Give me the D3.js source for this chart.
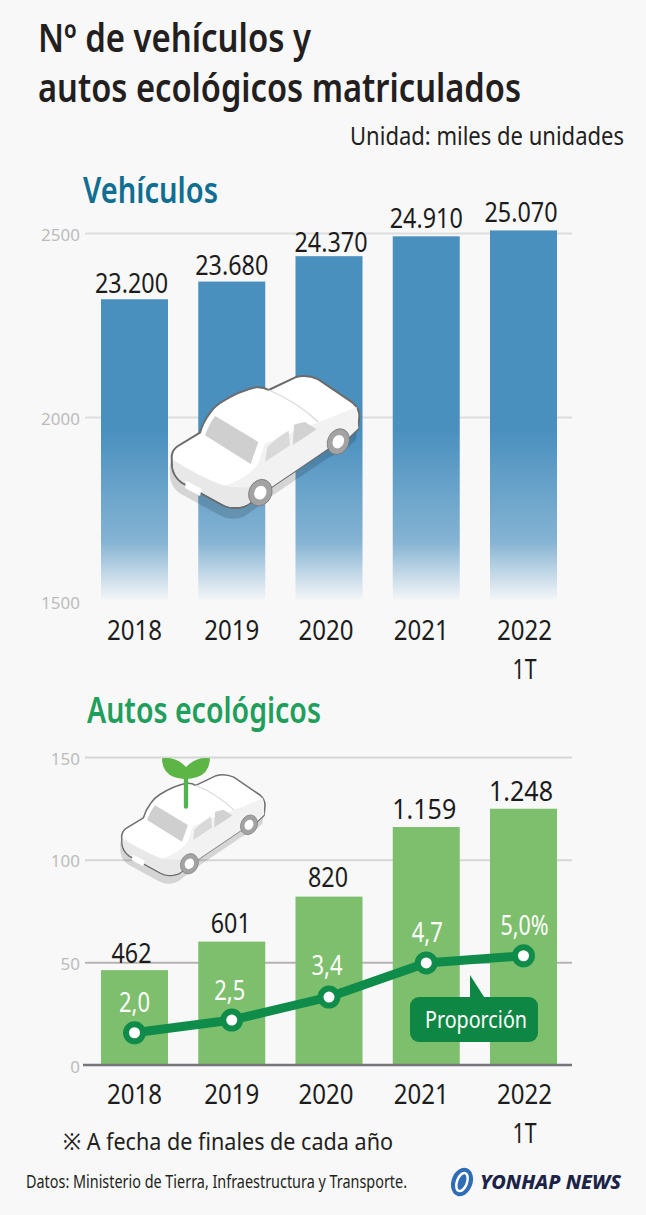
<!DOCTYPE html>
<html>
<head>
<meta charset="utf-8">
<script src="https://cdn.jsdelivr.net/npm/d3@7"></script>
<style>
  html, body { margin: 0; padding: 0; background: #f8f8f8; }
  svg { display: block; }
  text { font-family: "Noto Sans", sans-serif; }
</style>
</head>
<body>
<div id="chart"></div>
<script>
const categories = ['2018', '2019', '2020', '2021', '2022']
const vehicles = [2320, 2368, 2437, 2491, 2507]
const vehicleLabels = ['23.200', '23.680', '24.370', '24.910', '25.070']
const vehicleTicks = [1500, 2000, 2500]
const ecoCars = [46.2, 60.1, 82, 115.9, 124.8]
const ecoLabels = ['462', '601', '820', '1.159', '1.248']
const ecoTicks = [0, 50, 100, 150]
// the drawn line does not follow the percentages exactly, these are read off the left axis
const shareLine = [15.7, 21.9, 33.1, 49.7, 53.2]
const shareLabels = ['2,0', '2,5', '3,4', '4,7', '5,0%']

const svg = d3.select('#chart').append('svg')
    .attr('width', 646)
    .attr('height', 1215)

svg.append('rect').attr('width', 646).attr('height', 1215).attr('fill', '#f8f8f8')

// text helper, textLength squeezes the font to the narrow look of the original
const label = (x, y, str, size, fill, width, anchor = 'start', weight = 400) => {
    const t = svg.append('text')
        .attr('x', x)
        .attr('y', y)
        .attr('font-size', size)
        .attr('font-weight', weight)
        .attr('fill', fill)
        .attr('text-anchor', anchor)
        .text(str)
    if (width) t.attr('textLength', width).attr('lengthAdjust', 'spacingAndGlyphs')
    return t
}

const x = d3.scaleBand()
    .domain(categories)
    .range([101, 557])
    .paddingInner(0.311)
    .paddingOuter(0)

const yTop = d3.scaleLinear().domain([1500, 2500]).range([601, 233])
const yBottom = d3.scaleLinear().domain([0, 150]).range([1065, 757])

const defs = svg.append('defs')
const grad = defs.append('linearGradient')
    .attr('id', 'barFade')
    .attr('gradientUnits', 'userSpaceOnUse')
    .attr('x1', 0).attr('x2', 0)
    .attr('y1', 230).attr('y2', 601)
grad.append('stop').attr('offset', '0%').attr('stop-color', '#4a90bf')
grad.append('stop').attr('offset', '54%').attr('stop-color', '#4a90bf')
grad.append('stop').attr('offset', '84%').attr('stop-color', '#85b3d3')
grad.append('stop').attr('offset', '100%').attr('stop-color', '#f6f7f8')

// axes
const styleAxis = (g, lineColor) => {
    g.select('.domain').remove()
    g.selectAll('.tick line').attr('stroke', lineColor).attr('stroke-width', 2)
    g.selectAll('.tick text')
        .attr('x', -5)
        .attr('dy', '0.42em')
        .attr('fill', '#bcbcbc')
        .attr('font-size', 17)
        .attr('font-family', '"Noto Sans", sans-serif')
}

const topAxis = svg.append('g')
    .attr('transform', 'translate(85,0)')
    .call(d3.axisLeft(yTop).tickValues(vehicleTicks).tickSize(-487).tickPadding(5).tickFormat(d3.format('d')))
styleAxis(topAxis, '#dddddd')
topAxis.selectAll('.tick').filter(d => d === 1500).select('line').remove()

const bottomAxis = svg.append('g')
    .attr('transform', 'translate(85,0)')
    .call(d3.axisLeft(yBottom).tickValues(ecoTicks).tickSize(-487).tickPadding(5).tickFormat(d3.format('d')))
styleAxis(bottomAxis, '#d6d6d6')
bottomAxis.selectAll('.tick').filter(d => d === 0).select('line').remove()
bottomAxis.selectAll('.tick').filter(d => d === 50).select('line').attr('stroke', '#b8b3b3')

// bars
svg.append('g').selectAll('rect')
    .data(vehicles)
    .enter()
    .append('rect')
    .attr('x', (d, i) => x(categories[i]))
    .attr('y', d => yTop(d))
    .attr('width', x.bandwidth())
    .attr('height', d => yTop(1500) - yTop(d))
    .attr('fill', 'url(#barFade)')

svg.append('g').selectAll('rect')
    .data(ecoCars)
    .enter()
    .append('rect')
    .attr('x', (d, i) => x(categories[i]))
    .attr('y', d => yBottom(d))
    .attr('width', x.bandwidth())
    .attr('height', d => yBottom(0) - yBottom(d))
    .attr('fill', '#7dbf6d')

svg.append('line')
    .attr('x1', 83).attr('x2', 572)
    .attr('y1', yBottom(0)).attr('y2', yBottom(0))
    .attr('stroke', '#77747a')
    .attr('stroke-width', 2.5)

// car, path numbers are in the coordinates of a 3x crop
const bodyPath = 'M65,288 Q68,268 84,258 L150,218 Q160,185 178,162 Q192,140 215,126 Q270,92 318,82 Q340,80 356,90 L436,52 Q470,42 505,58 L608,128 Q628,145 628,168 L624,208 L598,232 L540,262 L366,380 L300,430 Q280,446 250,444 Q232,444 215,434 L95,368 Q70,350 66,320 Z'

const drawCar = (transform, outline) => {
    const car = svg.append('g').attr('transform', transform)
    car.append('path').attr('d', bodyPath)
        .attr('transform', 'translate(-6,32)')
        .attr('fill', '#000').attr('opacity', 0.14)
    car.append('path').attr('d', bodyPath)
        .attr('fill', '#ffffff')
        .attr('stroke', outline).attr('stroke-width', 6).attr('stroke-linejoin', 'round')
    // lower side and bumper shading
    car.append('path')
        .attr('d', 'M345,250 L510,185 L620,140 L625,205 L598,230 L540,262 L366,380 L300,385 L225,378 Q300,350 325,310 Z')
        .attr('fill', '#f2f2f2')
    car.append('path')
        .attr('d', 'M70,300 Q140,345 215,375 Q260,385 300,380 L300,428 Q280,442 250,441 Q232,441 217,431 L97,365 Q74,348 69,320 Z')
        .attr('fill', '#e8e8e8')
    car.append('path')
        .attr('d', 'M108,362 L155,386 L150,408 L105,384 Z')
        .attr('fill', '#ffffff')
    // windows
    car.append('path')
        .attr('d', 'M196,168 L325,246 L302,312 L165,226 Q178,190 196,168 Z')
        .attr('fill', '#cfcfcf')
    car.append('path')
        .attr('d', 'M416,212 L420,256 L345,306 L352,262 Q380,232 416,212 Z')
        .attr('fill', '#d9d9d9')
    car.append('path')
        .attr('d', 'M432,194 Q460,186 465,186 L500,208 L428,256 Z')
        .attr('fill', '#d2d2d2')
    car.append('path')
        .attr('d', 'M356,90 Q440,125 505,186')
        .attr('fill', 'none').attr('stroke', '#d8d8d8').attr('stroke-width', 4)
    // wheels
    const wheels = [[331, 398, 34, 41], [565, 245, 32, 40]]
    wheels.forEach(w => {
        car.append('ellipse')
            .attr('cx', w[0]).attr('cy', w[1]).attr('rx', w[2]).attr('ry', w[3])
            .attr('transform', `rotate(25 ${w[0]} ${w[1]})`)
            .attr('fill', '#a3a3a3').attr('stroke', '#6f6f6f').attr('stroke-width', 2)
        car.append('ellipse')
            .attr('cx', w[0]).attr('cy', w[1]).attr('rx', w[2] * 0.52).attr('ry', w[3] * 0.52)
            .attr('transform', `rotate(25 ${w[0]} ${w[1]})`)
            .attr('fill', '#ffffff')
    })
    return car
}

drawCar('translate(150,360) scale(0.3333)', '#6b6b6b')
drawCar('translate(105.1,762.4) scale(0.2547)', '#6f6f6f')

// sprout on the small car
const sprout = svg.append('g').attr('transform', 'translate(100,745) scale(0.3333)')
sprout.append('path').attr('d', 'M258,100 L258,185')
    .attr('stroke', '#4fb450').attr('stroke-width', 13).attr('stroke-linecap', 'round')
sprout.append('path')
    .attr('d', 'M258,102 Q245,102 222,96 Q186,82 186,40 Q228,34 258,66 Q290,34 330,40 Q328,84 292,96 Q272,102 258,102 Z')
    .attr('fill', '#5cb544')

// share line
const line = d3.line()
    .x((d, i) => x(categories[i]) + x.bandwidth() / 2)
    .y(d => yBottom(d))

svg.append('path')
    .datum(shareLine)
    .attr('d', line)
    .attr('fill', 'none')
    .attr('stroke', '#0f8c4a')
    .attr('stroke-width', 9)

svg.append('g').selectAll('circle')
    .data(shareLine)
    .enter()
    .append('circle')
    .attr('cx', (d, i) => x(categories[i]) + x.bandwidth() / 2)
    .attr('cy', d => yBottom(d))
    .attr('r', 8.5)
    .attr('fill', '#ffffff')
    .attr('stroke', '#0f8c4a')
    .attr('stroke-width', 6)

// callout
svg.append('path').attr('d', 'M470,975 L470,1000 L486,1000 Z').attr('fill', '#0f8744')
svg.append('rect')
    .attr('x', 410).attr('y', 997)
    .attr('width', 128).attr('height', 45)
    .attr('rx', 9)
    .attr('fill', '#0f8744')
label(425, 1028, 'Proporción', 24, '#ffffff', 102)

// value labels, the original nudges them by hand
const center = i => x(categories[i]) + x.bandwidth() / 2
const topNudgeX = [-3, 0, 2, 0, -2.5]
const topNudgeY = [0, -1, 1.5, -2.5, -2]
vehicleLabels.forEach((d, i) => {
    label(center(i) + topNudgeX[i], yTop(vehicles[i]) - 6 + topNudgeY[i], d, 28, '#1c1c1c', 73, 'middle')
})
const ecoNudgeX = [-3, -1, -1, -2, -2.5]
const ecoNudgeY = [0, -2, -3, -1, -1]
ecoLabels.forEach((d, i) => {
    label(center(i) + ecoNudgeX[i], yBottom(ecoCars[i]) - 7 + ecoNudgeY[i], d, 28, '#1c1c1c', i > 2 ? 64 : 40, 'middle')
})
const shareOffsets = [21, 20, 22, 21, 21]
const shareNudgeX = [0, -2, -2, 1, 1]
shareLabels.forEach((d, i) => {
    label(center(i) + shareNudgeX[i], yBottom(shareLine[i]) - shareOffsets[i], d, 27, '#ffffff', i === 4 ? 48 : 31, 'middle')
})

// category labels
const catNudge = [0, 0, -3, -5, 1]
categories.forEach((d, i) => {
    label(center(i) + catNudge[i], 640, d, 28, '#1c1c1c', 55, 'middle')
    label(center(i) + catNudge[i], 1104, d, 28, '#1c1c1c', 55, 'middle')
})
label(center(4) + 1, 679, '1T', 28, '#1c1c1c', 24, 'middle')
label(center(4) + 1, 1143, '1T', 28, '#1c1c1c', 24, 'middle')

// titles
label(38, 52, 'Nº de vehículos y', 39, '#231f20', 273, 'start', 600)
label(38, 102, 'autos ecológicos matriculados', 39, '#231f20', 483, 'start', 600)
label(624, 145, 'Unidad: miles de unidades', 26, '#231f20', 274, 'end')
label(83, 203, 'Vehículos', 36, '#0f6e92', 135, 'start', 600)
label(87, 723, 'Autos ecológicos', 36, '#1f9e5c', 234, 'start', 600)

// notes
label(63, 1150, '※ A fecha de finales de cada año', 24, '#231f20', 330)
label(26, 1188, 'Datos: Ministerio de Tierra, Infraestructura y Transporte.', 17.5, '#231f20', 381)

// logo
const logo = svg.append('g').attr('transform', 'translate(462,1182) rotate(20)')
logo.append('ellipse').attr('rx', 10.5).attr('ry', 14.5).attr('fill', '#2f6db5')
logo.append('ellipse').attr('rx', 5).attr('ry', 9.5).attr('fill', 'none').attr('stroke', '#ffffff').attr('stroke-width', 2.5)
label(480, 1189, 'YONHAP NEWS', 20, '#1c2447', 141, 'start', 800).attr('font-style', 'italic')
</script>
</body>
</html>
